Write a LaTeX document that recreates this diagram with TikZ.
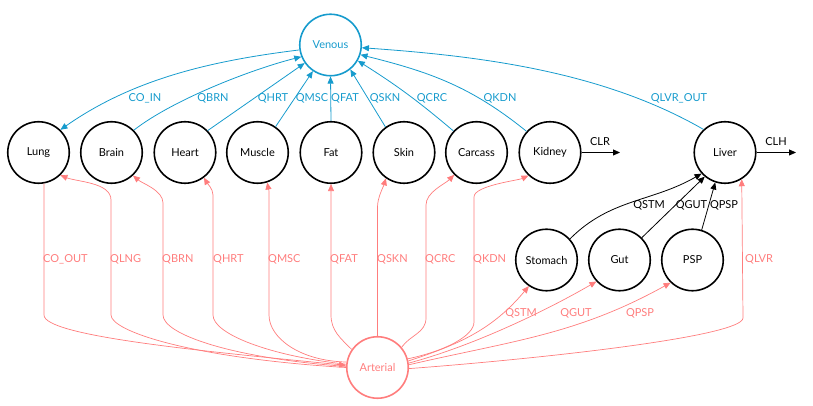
\documentclass[tikz,border=0pt]{standalone}
\usepackage{fontspec}
\setmainfont{Lato}
\usetikzlibrary{arrows.meta}
\definecolor{vblue}{RGB}{22,155,205}
\definecolor{apink}{RGB}{255,125,125}
\tikzset{
  organ/.style={circle, draw=black, line width=1.6pt, minimum size=61.5pt, inner sep=0pt, font=\fontsize{11}{13}\selectfont},
  ven/.style={organ, draw=vblue, text=vblue},
  artn/.style={organ, draw=apink, text=apink},
  tip/.style={-{Triangle[length=7pt,width=6pt]}},
  bluearrow/.style={draw=vblue, line width=0.8pt, tip},
  pinkarrow/.style={draw=apink, line width=0.7pt, tip},
  blackarrow/.style={draw=black, line width=0.8pt, tip},
  lbl/.style={inner sep=0pt, font=\fontsize{11}{13}\selectfont},
  bl/.style={lbl, text=vblue},
  pl/.style={lbl, text=apink},
  kl/.style={lbl, text=black}
}
\begin{document}
\begin{tikzpicture}[x=1pt,y=1pt]
\useasboundingbox (0,0) rectangle (813,406);
% nodes
\node[ven] (venous) at (330.5,361) {Venous};
\node[organ] (lung) at (38.5,253.5) {Lung};
\node[organ] (brain) at (111.5,253.5) {Brain};
\node[organ] (heart) at (185,253.5) {Heart};
\node[organ] (muscle) at (257.5,253.5) {Muscle};
\node[organ] (fat) at (331,253.5) {Fat};
\node[organ] (skin) at (404,253.5) {Skin};
\node[organ] (carcass) at (476.5,253.5) {Carcass};
\node[organ] (kidney) at (550,253.5) {Kidney};
\node[organ] (liver) at (725,253.5) {Liver};
\node[organ] (stomach) at (546.5,146) {Stomach};
\node[organ] (gut) at (619.5,146) {Gut};
\node[organ] (psp) at (692.5,146) {PSP};
\node[artn] (art) at (377.5,38.5) {Arterial};
\coordinate (clrend) at (620,253.5);
\coordinate (clhend) at (796,253.5);
% blue edges
\draw[bluearrow] (venous.189) to[out=187,in=35,looseness=0.9] (lung.46);
\draw[bluearrow] (brain.45) to[out=38,in=194,looseness=0.7] (venous.202);
\draw[bluearrow] (heart.44) -- (venous.215);
\draw[bluearrow] (muscle.55) -- (venous.236);
\draw[bluearrow] (fat.north) -- (venous.south);
\draw[bluearrow] (skin.126) -- (venous.-51);
\draw[bluearrow] (carcass.137) to[bend right=4] (venous.-30);
\draw[bluearrow] (kidney.138) to[out=141,in=-14] (venous.-18);
\draw[bluearrow] (liver.133) to[out=150,in=-4,looseness=0.85] (venous.-5);
% blue labels
\node[bl] (lcoin) at (145,308) {CO\_IN};
\node[bl] (lqbrnv) at (213,308) {QBRN};
\node[bl] (lqhrtv) at (273,308) {QHRT};
\node[bl] (lqmscv) at (312,308) {QMSC};
\node[bl] (lqfatv) at (345,308) {QFAT};
\node[bl] (lqsknv) at (385,308) {QSKN};
\node[bl] (lqcrcv) at (432,308) {QCRC};
\node[bl] (lqkdnv) at (500,308) {QKDN};
\node[bl] (lqlvrout) at (679,308) {QLVR\_OUT};
% black clearance edges
\draw[blackarrow] (kidney.east) -- (clrend);
\draw[blackarrow] (liver.east) -- (clhend);
\node[kl] (lclr) at (600,264) {CLR};
\node[kl] (lclh) at (776,264) {CLH};
% black portal edges
\draw[blackarrow] (stomach.42) to[out=45,in=-150] (liver.-138);
\draw[blackarrow] (gut.45) -- (liver.-130);
\draw[blackarrow] (psp.73) -- (liver.-108);
\node[kl] (lqstmk) at (649,201) {QSTM};
\node[kl] (lqgutk) at (691.5,201) {QGUT};
\node[kl] (lqpspk) at (724,201) {QPSP};
% pink edges
\draw[pinkarrow] (lung.-80) -- (44,91) .. controls (44,70) and (200,55) .. (art.176);
\draw[pinkarrow] (art.180) .. controls (190,48) and (111,75) .. (111,91) -- (111,206) to[out=90,in=-22,looseness=0.8] (lung.-46);
\draw[pinkarrow] (art.178) .. controls (230,48) and (163,72) .. (163,91) -- (163,203) to[out=90,in=-40,looseness=0.8] (brain.-47);
\draw[pinkarrow] (art.174) .. controls (270,50) and (213,72) .. (213,91) -- (213,211) to[out=90,in=-60,looseness=0.8] (heart.-53);
\draw[pinkarrow] (art.170) .. controls (300,45) and (269,68) .. (269,91) -- (269,214) to[out=90,in=-80,looseness=0.8] (muscle.-72);
\draw[pinkarrow] (art.145) to[out=135,in=-90] (331,91) -- (fat.south);
\draw[pinkarrow] (art.north) -- (377.5,199) to[out=90,in=-107,looseness=0.8] (skin.-125);
\draw[pinkarrow] (art.40) to[out=55,in=-90] (426,88) -- (426,201) to[out=90,in=-135,looseness=0.8] (carcass.-135);
\draw[pinkarrow] (art.16) .. controls (445,55) and (474,70) .. (474,84) -- (474,209) to[out=90,in=-155,looseness=0.5] (kidney.-133);
\draw[pinkarrow] (art.12) to[out=18,in=-130] (stomach.-124);
\draw[pinkarrow] (art.8) to[out=15,in=-150,looseness=0.8] (gut.-137);
\draw[pinkarrow] (art.5) to[out=13,in=-151] (psp.-134);
\draw[pinkarrow] (art.-2) .. controls (550,48) and (743,70) .. (743,88) -- (liver.-58);
% pink labels
\node[pl, anchor=west] (lcoout) at (43,147) {CO\_OUT};
\node[pl, anchor=west] (lqlng) at (110,147) {QLNG};
\node[pl, anchor=west] (lqbrna) at (162,147) {QBRN};
\node[pl, anchor=west] (lqhrta) at (213,147) {QHRT};
\node[pl, anchor=west] (lqmsca) at (268,147) {QMSC};
\node[pl, anchor=west] (lqfata) at (330,147) {QFAT};
\node[pl, anchor=west] (lqskna) at (377,147) {QSKN};
\node[pl, anchor=west] (lqcrca) at (425,147) {QCRC};
\node[pl, anchor=west] (lqkdna) at (473,147) {QKDN};
\node[pl, anchor=west] (lqlvr) at (745,147) {QLVR};
\node[pl] (lqstma) at (521,93) {QSTM};
\node[pl] (lqguta) at (576,93) {QGUT};
\node[pl] (lqpspa) at (640,93) {QPSP};
\end{tikzpicture}
\end{document}
